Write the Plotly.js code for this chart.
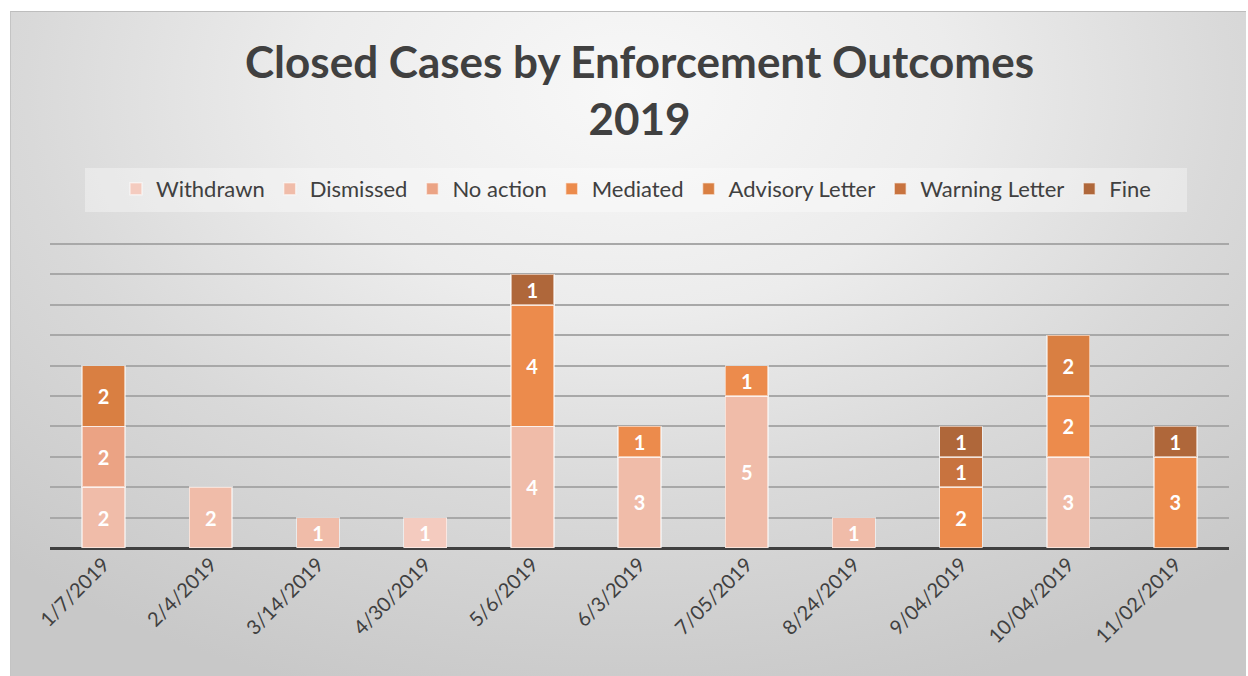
<!DOCTYPE html>
<html>
<head>
<meta charset="utf-8">
<script src="https://cdn.plot.ly/plotly-3.0.1.min.js"></script>
<style>
  html, body { margin: 0; padding: 0; background: #ffffff; }
  #wrap { position: relative; width: 1248px; height: 676px; overflow: hidden; }
  #bg { position: absolute; left: 10px; top: 11px; width: 1235px; height: 665px;
        border-top: 1px solid #bdbdbd; border-left: 1px solid #c4c4c4;
        background: radial-gradient(ellipse 75% 95% at 50% 12%, #f8f8f8 0%, #ececec 35%, #d9d9d9 65%, #c8c8c8 100%); }
  #chart { position: absolute; left: 0; top: 0; width: 1248px; height: 676px; }
</style>
</head>
<body>
<div id="wrap"><div id="bg"></div><div id="chart"></div></div>
<script>
const categories = ['1/7/2019','2/4/2019','3/14/2019','4/30/2019','5/6/2019','6/3/2019','7/05/2019','8/24/2019','9/04/2019','10/04/2019','11/02/2019'];
const seriesNames = ['Withdrawn','Dismissed','No action','Mediated','Advisory Letter','Warning Letter','Fine'];
const withdrawn     = [null, null, null, 1, null, null, null, null, null, null, null];
const dismissed     = [2, 2, 1, null, 4, 3, 5, 1, null, 3, null];
const noAction      = [2, null, null, null, null, null, null, null, null, null, null];
const mediated      = [null, null, null, null, 4, 1, 1, null, 2, 2, 3];
const advisory      = [2, null, null, null, null, null, null, null, null, 2, null];
const warning       = [null, null, null, null, null, null, null, null, 1, null, null];
const fine          = [null, null, null, null, 1, null, null, null, 1, null, 1];
const gridTicks     = [1, 2, 3, 4, 5, 6, 7, 8, 9, 10];
const colors = ['#F4CBBF','#F0BCA9','#EBA384','#EC8B4C','#D97F42','#C8733F','#AF673A'];

const values = [withdrawn, dismissed, noAction, mediated, advisory, warning, fine];
const traces = values.map((v, i) => ({
  type: 'bar',
  name: seriesNames[i],
  x: categories,
  y: v,
  marker: { color: colors[i], line: { color: 'rgba(255,255,255,0.55)', width: 1.5 } },
  text: v.map(d => d == null ? '' : String(d)),
  texttemplate: '%{text}',
  textposition: 'inside',
  insidetextanchor: 'middle',
  textangle: 0,
  constraintext: 'none',
  textfont: { family: 'Lato, "Open Sans", sans-serif', size: 20, color: '#ffffff', weight: 'bold' },
  hoverinfo: 'x+y+name'
}));

const layout = {
  width: 1248, height: 676,
  paper_bgcolor: 'rgba(0,0,0,0)',
  plot_bgcolor: 'rgba(0,0,0,0)',
  barmode: 'stack',
  bargap: 0.6,
  margin: { l: 50, r: 19, t: 238, b: 128 },
  font: { family: 'Lato, "Open Sans", sans-serif', color: '#404040' },
  title: {
    text: '<b>Closed Cases by Enforcement Outcomes<br>2019</b>',
    font: { family: 'Lato, "Open Sans", sans-serif', size: 44, color: '#404040' },
    x: 0.5, xref: 'paper', xanchor: 'center',
    y: 1 - 78/676, yref: 'container', yanchor: 'middle'
  },
  showlegend: true,
  legend: {
    orientation: 'h', x: 0.497, xanchor: 'center', y: (548-189)/310, yanchor: 'middle',
    bgcolor: 'rgba(0,0,0,0)', traceorder: 'normal',
    font: { family: 'Lato, "Open Sans", sans-serif', size: 22, color: '#404040' },
    itemwidth: 30, tracegroupgap: 0
  },
  shapes: [{
    type: 'rect', xref: 'paper', yref: 'paper', layer: 'below',
    x0: (85-50)/1179, x1: (1187-50)/1179, y0: (548-212)/310, y1: (548-168)/310,
    fillcolor: 'rgba(255,255,255,0.35)', line: { width: 0 }
  }],
  xaxis: {
    type: 'category',
    tickangle: -45,
    tickfont: { family: 'Lato, "Open Sans", sans-serif', size: 20, color: '#404040' },
    showgrid: false, showline: false, ticks: '', zeroline: false
  },
  yaxis: {
    range: [0, 10.2],
    tickvals: gridTicks,
    showticklabels: false,
    showgrid: true, gridcolor: '#a8a8a8', gridwidth: 2,
    zeroline: true, zerolinecolor: '#404040', zerolinewidth: 3,
    showline: false, ticks: '', fixedrange: true
  }
};

Plotly.newPlot('chart', traces, layout, { displayModeBar: false, staticPlot: true });
</script>
</body>
</html>
